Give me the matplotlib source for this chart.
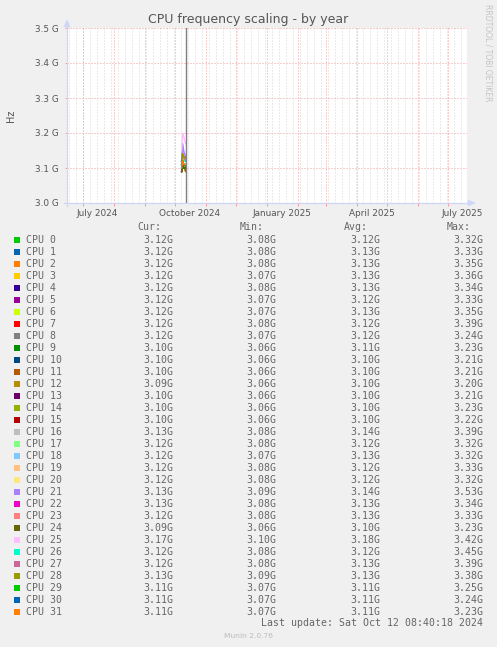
import datetime as dt
import matplotlib
matplotlib.use("Agg")
import matplotlib.pyplot as plt
import matplotlib.dates as mdates
from matplotlib.patches import Rectangle, Polygon
from matplotlib.lines import Line2D
import matplotlib.transforms as mtransforms

# ---------------- data ----------------
cpu_labels = [f"CPU {i}" for i in range(32)]
cpu_colors = ["#00CC00", "#0066B3", "#FF8000", "#FFCC00", "#330099", "#990099",
              "#CCFF00", "#FF0000", "#808080", "#008F00", "#00487D", "#B35A00",
              "#B38F00", "#6B006B", "#8FB300", "#B30000", "#BEBEBE", "#80FF80",
              "#80C9FF", "#FFC080", "#FFE680", "#AA80FF", "#EE00CC", "#FF8080",
              "#666600", "#FFBFFF", "#00FFCC", "#CC6699", "#999900", "#00CC00",
              "#0066B3", "#FF8000"]

sample_dates = [dt.datetime(2024, 10, 8), dt.datetime(2024, 10, 9), dt.datetime(2024, 10, 10),
                dt.datetime(2024, 10, 11), dt.datetime(2024, 10, 12)]

# frequency samples in GHz per CPU
freq_ghz = [
    [3.11, 3.13, 3.12, 3.13, 3.12],
    [3.12, 3.14, 3.13, 3.13, 3.12],
    [3.12, 3.14, 3.13, 3.13, 3.12],
    [3.11, 3.14, 3.13, 3.12, 3.12],
    [3.12, 3.14, 3.13, 3.13, 3.12],
    [3.11, 3.13, 3.12, 3.12, 3.12],
    [3.12, 3.14, 3.13, 3.13, 3.12],
    [3.11, 3.13, 3.12, 3.12, 3.12],
    [3.11, 3.13, 3.12, 3.12, 3.12],
    [3.10, 3.12, 3.11, 3.11, 3.10],
    [3.09, 3.11, 3.10, 3.10, 3.10],
    [3.09, 3.11, 3.10, 3.10, 3.10],
    [3.09, 3.11, 3.10, 3.10, 3.09],
    [3.09, 3.11, 3.10, 3.10, 3.10],
    [3.09, 3.11, 3.10, 3.10, 3.10],
    [3.09, 3.11, 3.10, 3.10, 3.10],
    [3.12, 3.15, 3.14, 3.14, 3.13],
    [3.11, 3.13, 3.12, 3.12, 3.12],
    [3.12, 3.14, 3.13, 3.13, 3.12],
    [3.11, 3.13, 3.12, 3.12, 3.12],
    [3.11, 3.13, 3.12, 3.12, 3.12],
    [3.12, 3.17, 3.15, 3.14, 3.13],
    [3.12, 3.14, 3.13, 3.13, 3.13],
    [3.12, 3.14, 3.13, 3.13, 3.12],
    [3.09, 3.11, 3.10, 3.10, 3.09],
    [3.15, 3.20, 3.19, 3.18, 3.17],
    [3.11, 3.13, 3.12, 3.12, 3.12],
    [3.12, 3.14, 3.13, 3.13, 3.12],
    [3.12, 3.14, 3.13, 3.13, 3.13],
    [3.10, 3.12, 3.11, 3.11, 3.11],
    [3.10, 3.12, 3.11, 3.11, 3.11],
    [3.10, 3.12, 3.11, 3.11, 3.11],
]

cur_vals = [3.12, 3.12, 3.12, 3.12, 3.12, 3.12, 3.12, 3.12, 3.12, 3.10, 3.10, 3.10, 3.09, 3.10, 3.10, 3.10,
            3.13, 3.12, 3.12, 3.12, 3.12, 3.13, 3.13, 3.12, 3.09, 3.17, 3.12, 3.12, 3.13, 3.11, 3.11, 3.11]
min_vals = [3.08, 3.08, 3.08, 3.07, 3.08, 3.07, 3.07, 3.08, 3.07, 3.06, 3.06, 3.06, 3.06, 3.06, 3.06, 3.06,
            3.08, 3.08, 3.07, 3.08, 3.08, 3.09, 3.08, 3.08, 3.06, 3.10, 3.08, 3.08, 3.09, 3.07, 3.07, 3.07]
avg_vals = [3.12, 3.13, 3.13, 3.13, 3.13, 3.12, 3.13, 3.12, 3.12, 3.11, 3.10, 3.10, 3.10, 3.10, 3.10, 3.10,
            3.14, 3.12, 3.13, 3.12, 3.12, 3.14, 3.13, 3.13, 3.10, 3.18, 3.12, 3.13, 3.13, 3.11, 3.11, 3.11]
max_vals = [3.32, 3.33, 3.35, 3.36, 3.34, 3.33, 3.35, 3.39, 3.24, 3.23, 3.21, 3.21, 3.20, 3.21, 3.23, 3.22,
            3.39, 3.32, 3.32, 3.33, 3.32, 3.53, 3.34, 3.33, 3.23, 3.42, 3.45, 3.39, 3.38, 3.25, 3.24, 3.23]

y_ticks = [3.0, 3.1, 3.2, 3.3, 3.4, 3.5]
y_tick_labels = ["3.0 G", "3.1 G", "3.2 G", "3.3 G", "3.4 G", "3.5 G"]
x_label_dates = [dt.datetime(2024, 7, 16), dt.datetime(2024, 10, 16), dt.datetime(2025, 1, 16),
                 dt.datetime(2025, 4, 16), dt.datetime(2025, 7, 16)]
x_tick_labels = ["July 2024", "October 2024", "January 2025", "April 2025", "July 2025"]
last_update = "Last update: Sat Oct 12 08:40:18 2024"
now = dt.datetime(2024, 10, 12, 8, 40, 18)

# ---------------- layout ----------------
W, H = 497, 647
FONT = "#666666"
DARK = "#555555"
AXIS = "#CFD6F8"

fig = plt.figure(figsize=(W / 100, H / 100), dpi=100, facecolor="#F0F0F0")


def fx(x):
    return x / W


def fy(y):
    return 1 - y / H


ax = fig.add_axes([fx(67), fy(203), 400 / W, 175 / H])
ax.set_facecolor("white")

x_start = now - dt.timedelta(days=119)
x_end = x_start + dt.timedelta(days=400)
ax.set_xlim(x_start, x_end)
ax.set_ylim(3.0, 3.5)

# grid: weekly minor (gray) and monthly major (red)
d = dt.datetime(2024, 6, 17)
while d < x_end:
    ax.axvline(d, color="#D6D6D6", lw=0.72, ls=(0, (1, 2)), zorder=0)
    d += dt.timedelta(days=7)
month_starts = []
y, m = 2024, 7
while dt.datetime(y, m, 1) < x_end:
    month_starts.append(dt.datetime(y, m, 1))
    m += 1
    if m > 12:
        m = 1
        y += 1
for ms in month_starts:
    ax.axvline(ms, color="#F0A0A0", lw=0.72, ls=(0, (1, 2)), zorder=0.5)
for yt in y_ticks[1:]:
    ax.axhline(yt, color="#F0A0A0", lw=0.72, ls=(0, (1, 2)), zorder=0.5)

# data lines
for i in range(len(cpu_labels)):
    ax.plot(sample_dates, freq_ghz[i], color=cpu_colors[i], lw=1.0, zorder=2)

# "now" rule
ax.axvline(now, color="#7F7F7F", lw=1.0, zorder=3)

for s in ax.spines.values():
    s.set_visible(False)

ax.set_yticks(y_ticks)
ax.set_yticklabels(y_tick_labels)
ax.set_xticks(x_label_dates)
ax.set_xticklabels(x_tick_labels)
ax.set_xticks(month_starts, minor=True)
ax.tick_params(axis="x", which="major", length=0, pad=4.2, labelsize=6.4, labelcolor=DARK)
ax.tick_params(axis="x", which="minor", length=2.2, width=0.72, color="#F0A0A0", direction="out")
ax.tick_params(axis="y", which="major", length=1.5, width=0.72, color="#F0A0A0", pad=4.6,
               labelsize=6.4, labelcolor=DARK)
ax.tick_params(axis="y", which="minor", length=0)

# axis lines and arrows (figure pixel coordinates)
fig.add_artist(Line2D([fx(67), fx(67)], [fy(206), fy(24)], color=AXIS, lw=0.9))
fig.add_artist(Line2D([fx(64), fx(471)], [fy(203), fy(203)], color=AXIS, lw=0.9))
fig.add_artist(Polygon([[fx(64), fy(27)], [fx(70), fy(27)], [fx(67), fy(20)]], closed=True,
                       facecolor=AXIS, edgecolor=AXIS, lw=0.5))
fig.add_artist(Polygon([[fx(468), fy(200)], [fx(468), fy(206)], [fx(475), fy(203)]], closed=True,
                       facecolor=AXIS, edgecolor=AXIS, lw=0.5))

# titles
fig.text(fx(248), fy(19), "CPU frequency scaling - by year", ha="center", va="center",
         fontsize=9, color=DARK)
fig.text(fx(11), fy(116), "Hz", rotation=90, ha="center", va="center", fontsize=7, color=DARK)
fig.text(fx(488), fy(53), "RRDTOOL / TOBI OETIKER", rotation=270, ha="center", va="center",
         fontsize=5.5, color="#C4C4C4")

# legend
MONO = "DejaVu Sans Mono"
LFS = 7.15
hdr_y = 227
for txt, x in [("Cur:", 137), ("Min:", 240), ("Avg:", 344), ("Max:", 447)]:
    fig.text(fx(x), fy(hdr_y), txt, ha="left", va="center", family=MONO, fontsize=LFS, color=FONT)

col_right = [173, 276, 380, 483]
for i, lab in enumerate(cpu_labels):
    ry = 240 + 12 * i
    fig.add_artist(Rectangle((fx(14), fy(ry + 3)), 6 / W, 6 / H, facecolor=cpu_colors[i],
                             edgecolor="none"))
    fig.text(fx(26.5), fy(ry), lab, ha="left", va="center", family=MONO, fontsize=LFS, color=FONT)
    for vals, xr in zip([cur_vals, min_vals, avg_vals, max_vals], col_right):
        fig.text(fx(xr), fy(ry), f"{vals[i]:.2f}G", ha="right", va="center", family=MONO,
                 fontsize=LFS, color=FONT)

fig.text(fx(483), fy(623.5), last_update, ha="right", va="center", family=MONO, fontsize=LFS,
         color=FONT)
fig.text(fx(248), fy(636), "Munin 2.0.76", ha="center", va="center", fontsize=5.4, color="#BBBBBB")

fig.savefig("out.png", dpi=100, facecolor=fig.get_facecolor())
